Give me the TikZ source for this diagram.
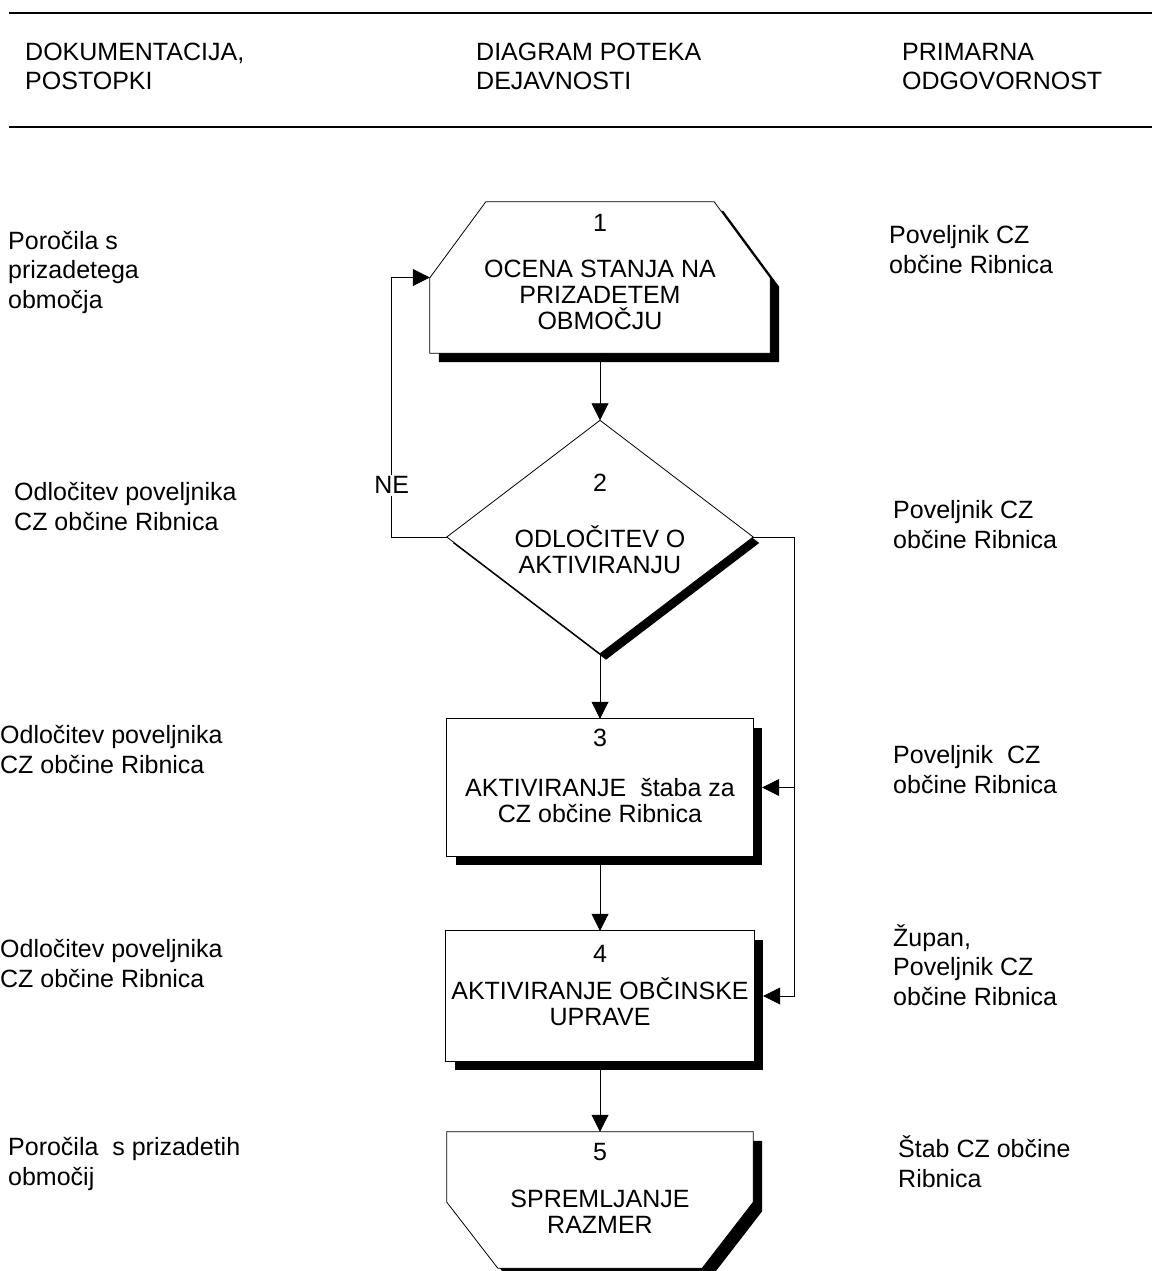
\documentclass[tikz,border=0pt]{standalone}
\usepackage{fontspec}
\setmainfont{Liberation Sans}
\usetikzlibrary{arrows.meta, shadows, backgrounds, calc}

\begin{document}
\begin{tikzpicture}[x=1pt, y=-1pt, font=\fontsize{25}{29.5}\selectfont,
  label node/.style={inner sep=0pt, align=left, anchor=base west},
  step node/.style={inner sep=0pt, align=center, font=\fontsize{25}{26}\selectfont},
  step shape/.style={draw, fill=white, line width=0.8pt, drop shadow={shadow xshift=#1, shadow yshift=-#1, fill=black, opacity=1}},
  step shape/.default=9pt,
  flow line/.style={line width=0.8pt, -{Triangle[length=17pt, width=17pt]}}]
\useasboundingbox (0,0) rectangle (1152,1271);

% header
\draw[line width=2.5pt] (9,13) -- (1152,13);
\draw[line width=2.5pt] (9,127) -- (1152,127);
\node[label node] (doc) at (25,90) {DOKUMENTACIJA,\\POSTOPKI};
\node[label node] (flow) at (476,90) {DIAGRAM POTEKA\\DEJAVNOSTI};
\node[label node] (resp) at (902,90) {PRIMARNA\\ODGOVORNOST};

% steps of the flow
\node[step node, minimum width=340pt, minimum height=151pt, text depth=11pt] (s1) at (600,277.5) {1\\[20pt]OCENA STANJA NA\\PRIZADETEM\\OBMOČJU};
\node[step node, minimum width=306pt, minimum height=233pt, text depth=26pt] (s2) at (600,537) {2\\[30pt]ODLOČITEV O\\AKTIVIRANJU};
\node[step node, minimum width=306pt, minimum height=137pt, text depth=23pt] (s3) at (600,787.5) {3\\[24pt]AKTIVIRANJE\ \ štaba za\\CZ občine Ribnica};
\node[step node, minimum width=308pt, minimum height=130pt, text depth=21pt] (s4) at (600,996) {4\\[11pt]AKTIVIRANJE OBČINSKE\\UPRAVE};
\node[step node, minimum width=306pt, minimum height=136pt, text depth=23pt] (s5) at (600,1200) {5\\[21pt]SPREMLJANJE\\RAZMER};

\begin{scope}[on background layer]
\path[step shape] (s1.south west) -- ($(s1.north west)+(0,76)$) -- ($(s1.north west)+(56,0)$) -- ($(s1.north east)+(-56,0)$) -- ($(s1.north east)+(0,76)$) -- (s1.south east) -- cycle;
\path[step shape=6pt] (s2.north) -- (s2.east) -- (s2.south) -- (s2.west) -- cycle;
\path[step shape] (s3.north west) rectangle (s3.south east);
\path[step shape] (s4.north west) rectangle (s4.south east);
\path[step shape] (s5.north west) -- (s5.north east) -- ($(s5.south east)+(0,-66)$) -- ($(s5.south east)+(-51,0)$) -- ($(s5.south west)+(51,0)$) -- ($(s5.south west)+(0,-66)$) -- cycle;
\end{scope}

% connectors
\draw[flow line] (s1.south) -- (s2.north);
\draw[flow line] (s2.south) -- (s3.north);
\draw[flow line] (s3.south) -- (s4.north);
\draw[flow line] (s4.south) -- (s5.north);
\draw[flow line] (s2.west) -- ++(-55,0) |- node[pos=0.1, fill=white, inner sep=2pt] (ne) {NE} (s1.west);
\draw[flow line] (s2.east) -- ++(41,0) |- ([xshift=9pt]s3.east);
\draw[flow line] (s2.east) -- ++(41,0) |- ([xshift=9pt]s4.east);

% documents and responsibility
\node[label node] (doc1) at (8,308) {Poročila s\\prizadetega\\območja};
\node[label node] (doc2) at (14,530) {Odločitev poveljnika\\CZ občine Ribnica};
\node[label node] (doc3) at (0,773) {Odločitev poveljnika\\CZ občine Ribnica};
\node[label node] (doc4) at (0,987) {Odločitev poveljnika\\CZ občine Ribnica};
\node[label node] (doc5) at (8,1185) {Poročila\ \ s prizadetih\\območij};
\node[label node] (resp1) at (889,273) {Poveljnik CZ\\občine Ribnica};
\node[label node] (resp2) at (893,548) {Poveljnik CZ\\občine Ribnica};
\node[label node] (resp3) at (893,793) {Poveljnik\ \ CZ\\občine Ribnica};
\node[label node] (resp4) at (893,1005) {Župan,\\Poveljnik CZ\\občine Ribnica};
\node[label node] (resp5) at (898,1187) {Štab CZ občine\\Ribnica};
\end{tikzpicture}
\end{document}
